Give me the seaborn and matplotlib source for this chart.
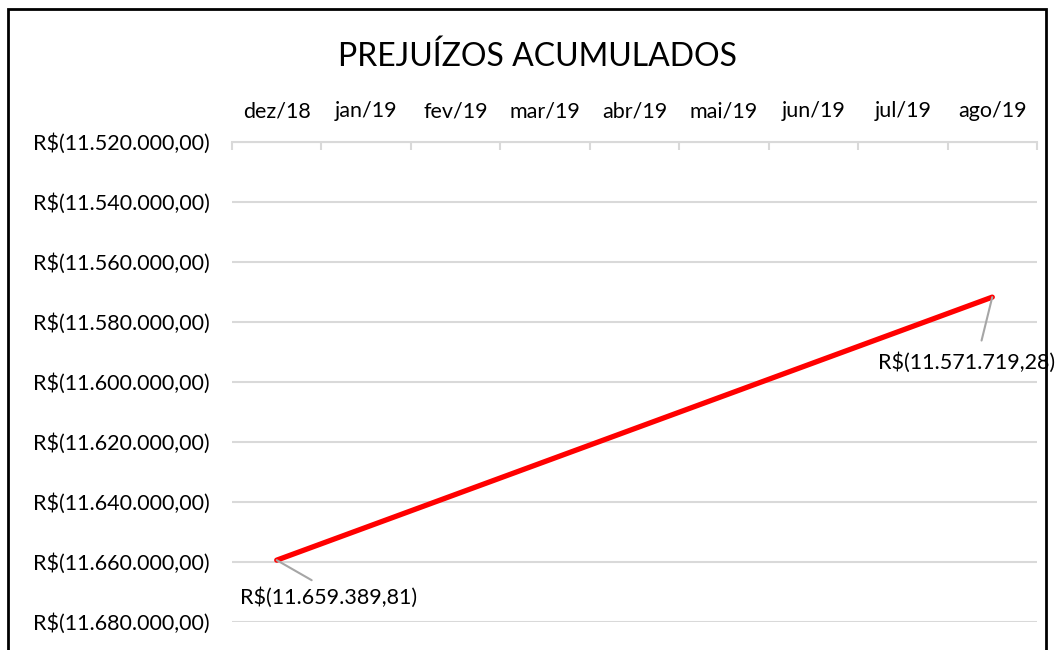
import numpy as np
import pandas as pd
import matplotlib
matplotlib.use("Agg")
import matplotlib.pyplot as plt
import seaborn as sns

# months on the category axis
months = ['dez/18', 'jan/19', 'fev/19', 'mar/19', 'abr/19',
          'mai/19', 'jun/19', 'jul/19', 'ago/19']
# accumulated losses (only first and last month are known)
losses = [-11659389.81, None, None, None, None, None, None, None, -11571719.28]
y_ticks = [-11680000, -11660000, -11640000, -11620000, -11600000,
           -11580000, -11560000, -11540000, -11520000]


def brl(v):
    s = f"{abs(v):,.2f}".replace(",", "X").replace(".", ",").replace("X", ".")
    return f"R$({s})" if v < 0 else f"R${s}"


df = pd.DataFrame({'Mes': months, 'Prejuizo': losses})
df['pos'] = range(len(months))
pts = df.dropna()

sns.set_style("white")
plt.rcParams['font.family'] = ['Lato', 'DejaVu Sans']
plt.rcParams['text.color'] = 'black'
plt.rcParams['xtick.labelcolor'] = 'black'
plt.rcParams['ytick.labelcolor'] = 'black'

fig = plt.figure(figsize=(10.56, 6.5), dpi=100)
ax = fig.add_axes([0.2197, 0.0431, 0.7623, 0.7385])

sns.lineplot(x='pos', y='Prejuizo', data=pts, color='#FF0000', linewidth=3.8,
             solid_capstyle='round', ax=ax)

ax.set_xlim(-0.5, len(months) - 0.5)
ax.set_ylim(-11680000, -11520000)
ax.set_yticks(y_ticks)
ax.set_yticklabels([brl(v) for v in y_ticks], fontsize=15.5)
ax.yaxis.grid(True, color='#D9D9D9', linewidth=1.5)
ax.tick_params(axis='y', length=0, pad=16, labelcolor='black')

# category axis on top
ax.xaxis.tick_top()
ax.set_xticks(range(len(months)))
ax.set_xticklabels(months, fontsize=15.5)
ax.set_xticks(np.arange(-0.5, len(months)), minor=True)
ax.tick_params(axis='x', which='major', length=0, pad=15, labelcolor='black')
ax.tick_params(axis='x', which='minor', length=6, width=1.5, color='#D9D9D9',
               direction='in', top=True, bottom=False)
ax.set_xlabel('')
ax.set_ylabel('')
for side in ['left', 'right', 'bottom']:
    ax.spines[side].set_visible(False)
ax.spines['top'].set_color('#D9D9D9')
ax.spines['top'].set_linewidth(1.5)

# data labels with leader lines
first = pts.iloc[0]
last = pts.iloc[-1]
ax.annotate(brl(first['Prejuizo']), xy=(first['pos'], first['Prejuizo']),
            xytext=(first['pos'] - 0.415, first['Prejuizo'] - 12600),
            fontsize=15.5, ha='left', va='center', color='black',
            arrowprops=dict(arrowstyle='-', color='#A6A6A6', lw=1.5,
                            shrinkA=6, shrinkB=0, relpos=(0.48, 1.0)))
ax.annotate(brl(last['Prejuizo']), xy=(last['pos'], last['Prejuizo']),
            xytext=(last['pos'] - 1.28, last['Prejuizo'] - 21700),
            fontsize=15.5, ha='left', va='center', color='black',
            arrowprops=dict(arrowstyle='-', color='#A6A6A6', lw=1.5,
                            shrinkA=6, shrinkB=0, relpos=(0.57, 1.0)))

fig.text(0.509, 0.913, 'PREJUÍZOS ACUMULADOS', fontsize=23, ha='center',
         va='center', color='black')

# chart border
border = plt.Rectangle((0.008, -0.05), 0.983, 1.036, transform=fig.transFigure,
                       fill=False, edgecolor='black', linewidth=2)
fig.patches.append(border)

fig.savefig('out.png', dpi=100)
